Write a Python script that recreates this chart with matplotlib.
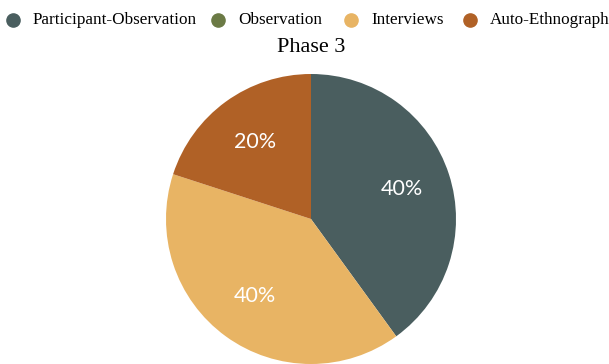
import matplotlib.pyplot as plt
from matplotlib.lines import Line2D

# data
methods = ["Participant-Observation", "Observation", "Interviews", "Auto-Ethnograph"]
shares = [40, 0, 40, 20]
colors = ["#4a5e5f", "#6b7a45", "#e8b464", "#b06126"]
title = "Phase 3"

W, H = 609, 364
fig = plt.figure(figsize=(W / 100, H / 100), dpi=100)
ax = fig.add_axes([166 / W, 0.0, 290 / W, 290 / H])

wedges, texts, autotexts = ax.pie(
    shares, colors=colors, startangle=90, counterclock=False,
    autopct=lambda p: f"{p:.0f}%" if p > 0 else "", pctdistance=0.66,
    radius=1.0, wedgeprops=dict(linewidth=0),
)
for t in autotexts:
    t.set_color("white")
    t.set_fontsize(15.5)
    t.set_family("Lato")
ax.set_xlim(-1, 1)
ax.set_ylim(-1, 1)
ax.set_aspect("equal")

fig.text(311 / W, 1 - 48 / H, title, ha="center", va="center",
         fontsize=16, family="Liberation Serif")

# legend row, laid out by hand to match the reference spacing
marker_x = [13, 218, 351, 470]
legend_y = 1 - 20 / H
for mx, label, c in zip(marker_x, methods, colors):
    fig.add_artist(Line2D([mx / W], [legend_y], marker="o", linestyle="",
                          markersize=9.5, markerfacecolor=c, markeredgecolor=c,
                          transform=fig.transFigure))
    fig.text((mx + 20) / W, legend_y, label, ha="left", va="center",
             fontsize=12.3, family="Liberation Serif")

fig.savefig("out.png", dpi=100)
